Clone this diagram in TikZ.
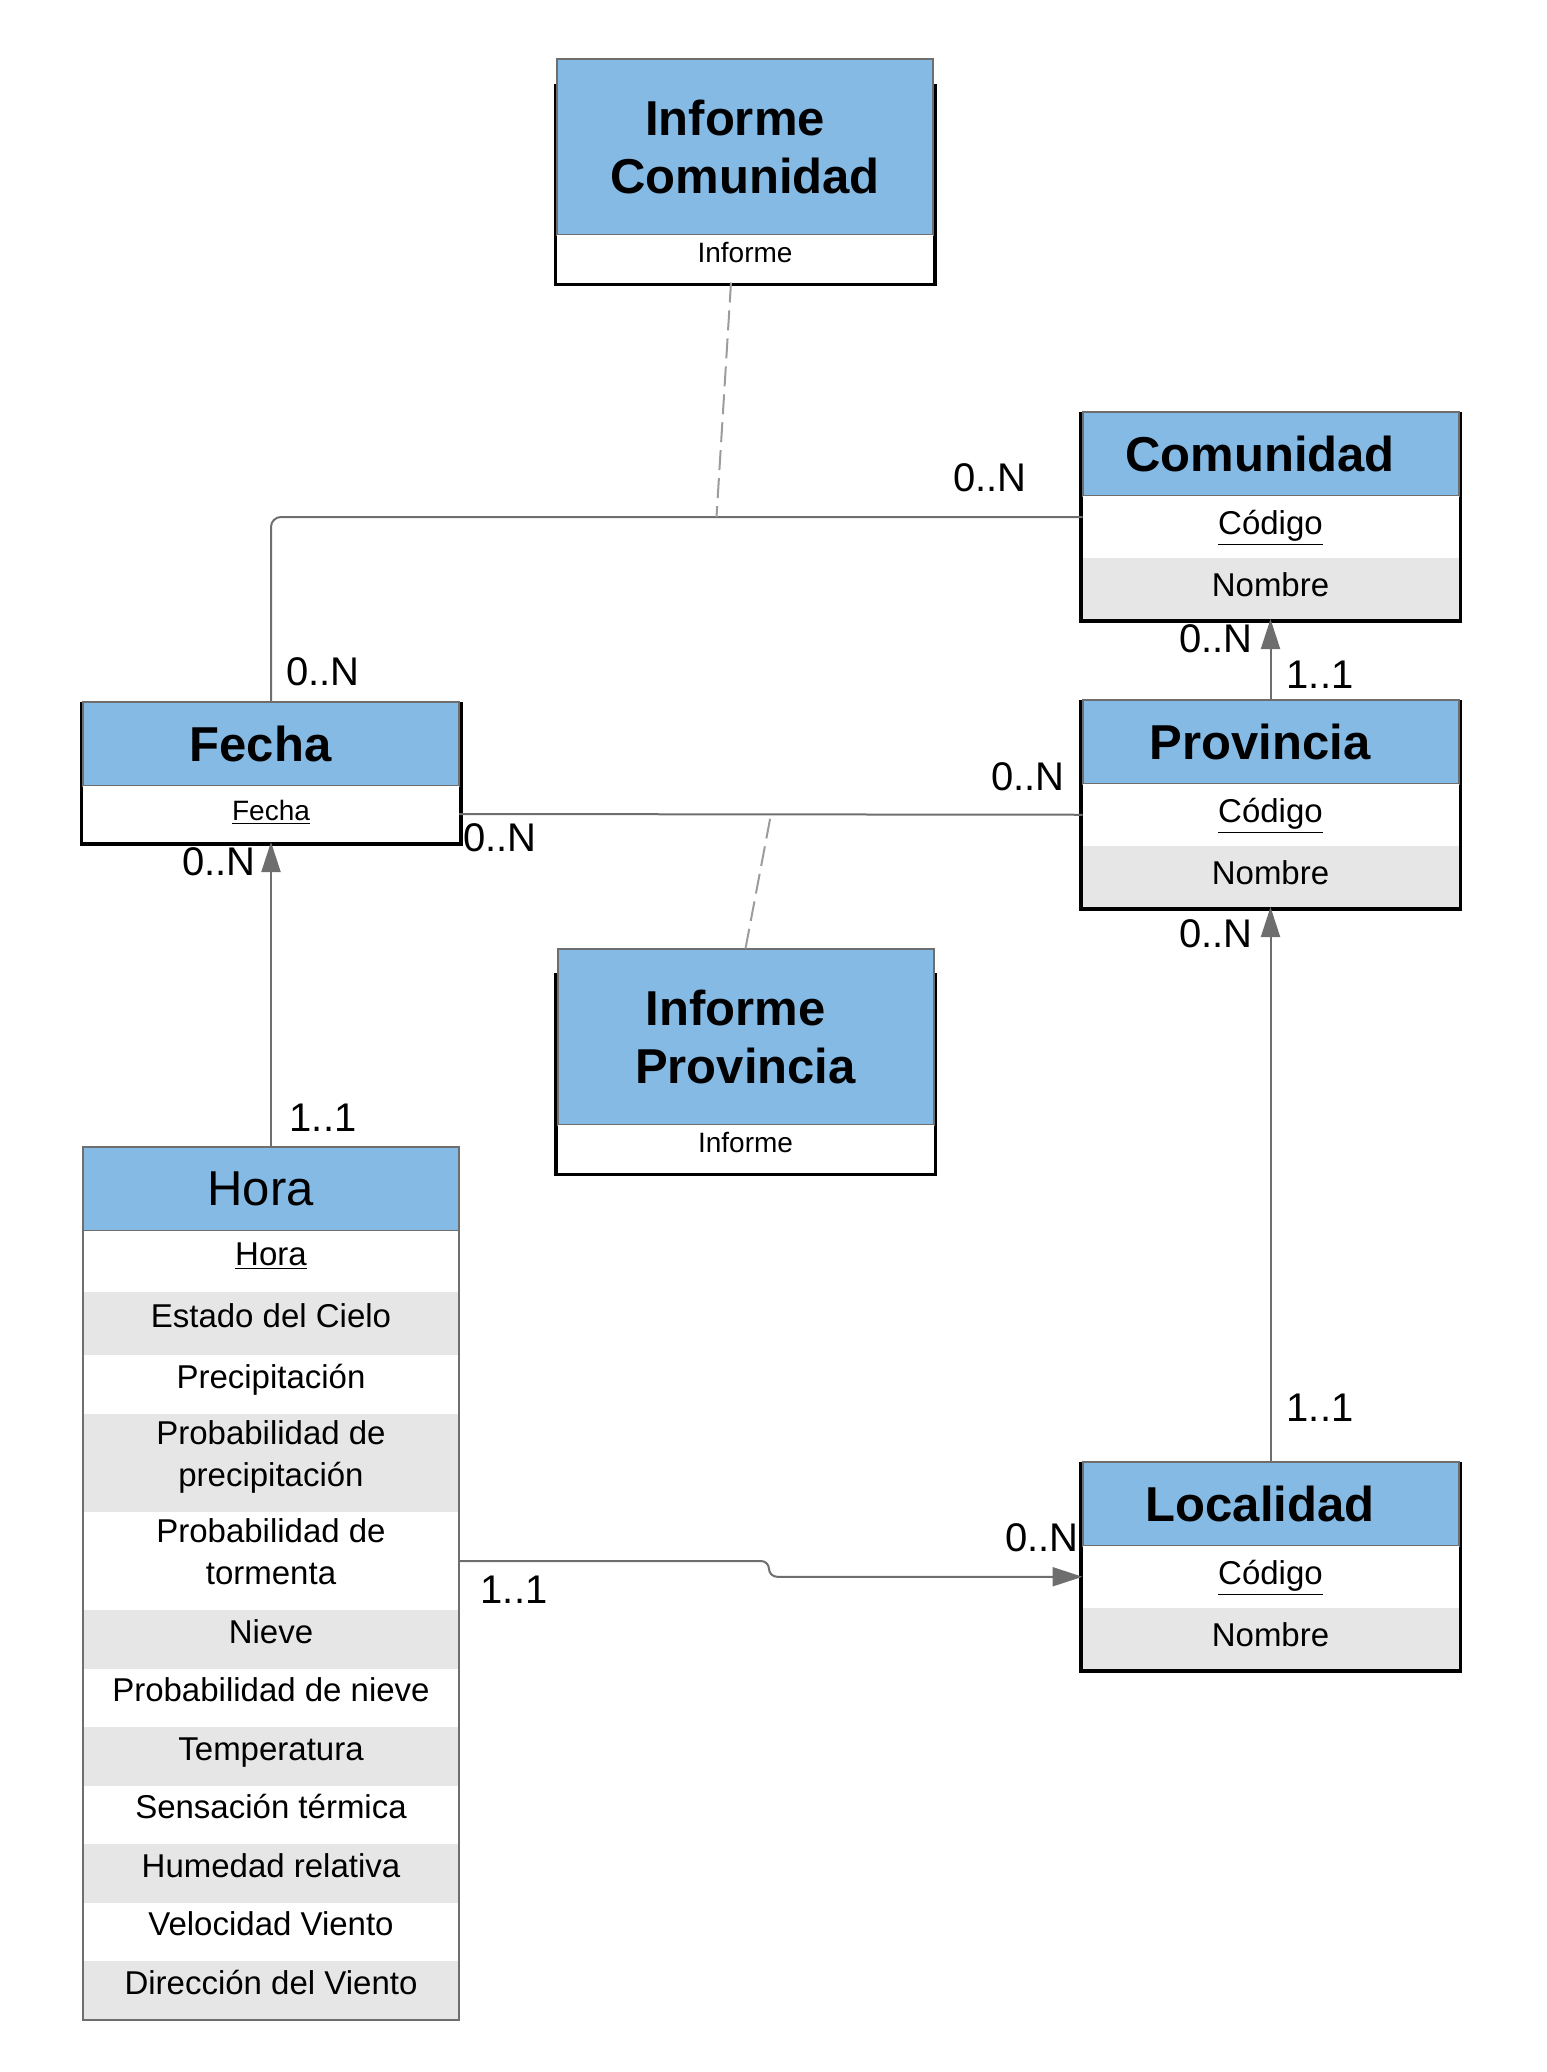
\documentclass[tikz,border=0pt]{standalone}
\usepackage{fontspec}
\setmainfont{Liberation Sans}
\usetikzlibrary{positioning, calc, arrows.meta, backgrounds}
\definecolor{headFill}{HTML}{84BAE4}
\definecolor{rowFill}{HTML}{E6E6E6}
\definecolor{lineGray}{HTML}{6E6E6E}
\definecolor{dashGray}{HTML}{9C9C9C}
\tikzset{
    Head/.style = {
        draw=lineGray, line width=1pt, fill=headFill,
        minimum width=188pt, minimum height=42pt, inner sep=0pt, outer sep=0pt,
        align=center, font=\fontsize{24.5}{29}\selectfont\bfseries
    },
    Title/.style = {Head, execute at end node={\hspace*{10.5pt}}},
    HeadTall/.style = {Head, minimum height=88pt},
    Attr/.style = {
        fill=white, minimum width=188pt, minimum height=30.75pt,
        inner sep=0pt, outer sep=0pt, align=center,
        text height=12pt, text depth=4pt, font=\fontsize{16.5}{21}\selectfont
    },
    AttrGray/.style = {Attr, fill=rowFill},
    AttrSmall/.style = {Attr, minimum height=24pt, text height=10pt, font=\fontsize{14}{17}\selectfont},
    HRow/.style = {Attr, minimum height=29.25pt, text depth=8pt},
    HRowGray/.style = {HRow, fill=rowFill},
    HRowTwo/.style = {Attr, minimum height=49pt, text height=, text depth=},
    Frame/.style = {draw=black, line width=3.5pt},
    Card/.style = {inner sep=0pt, font=\fontsize{20}{24}\selectfont},
    Link/.style = {draw=lineGray, line width=1pt},
    Arrow/.style = {Link, -{Triangle[length=15pt, width=9.5pt]}},
    Assoc/.style = {draw=dashGray, line width=1pt, dash pattern=on 10pt off 4pt}
}

\begin{document}
\begin{tikzpicture}[x=0.5pt, y=-0.5pt]
    \useasboundingbox (0,0) rectangle (1547,2072);
    % informes
    \node[HeadTall] (infC) at (745,146.5) {Informe\hspace*{10pt}\\Comunidad};
    \node[AttrSmall, text depth=6pt, below=0pt of infC] (infCA) {Informe};
    \node[HeadTall] (infP) at (745.5,1036.5) {Informe\hspace*{10pt}\\Provincia};
    \node[AttrSmall, text depth=6pt, below=0pt of infP] (infPA) {Informe};
    % fecha
    \node[Title] (fecha) at (271,744) {Fecha};
    \node[AttrSmall, minimum height=28pt, below=0pt of fecha] (fechaA) {\underline{Fecha}};
    % comunidad, provincia, localidad
    \node[Title] (com) at (1270.5,454) {Comunidad};
    \node[Attr, below=0pt of com] (comC) {\underline{Código}};
    \node[AttrGray, below=0pt of comC] (comN) {Nombre};
    \node[Title, below=40.5pt of comN] (prov) {Provincia};
    \node[Attr, below=0pt of prov] (provC) {\underline{Código}};
    \node[AttrGray, below=0pt of provC] (provN) {Nombre};
    \node[Title, below=277.5pt of provN] (loc) {Localidad};
    \node[Attr, below=0pt of loc] (locC) {\underline{Código}};
    \node[AttrGray, below=0pt of locC] (locN) {Nombre};
    % hora
    \node[Title, font=\fontsize{24.5}{29}\selectfont, below=152.5pt of fechaA] (hora) {Hora};
    \node[HRow, minimum height=30.5pt, below=0pt of hora] (hHora) {\underline{Hora}};
    \node[HRowGray, minimum height=31.5pt, below=0pt of hHora] (hCielo) {Estado del Cielo};
    \node[HRow, minimum height=29.5pt, below=0pt of hCielo] (hPrec) {Precipitación};
    \node[HRowTwo, fill=rowFill, below=0pt of hPrec] (hProbPrec) {Probabilidad de\\precipitación\\[-12pt]\mbox{}};
    \node[HRowTwo, below=0pt of hProbPrec] (hProbTorm) {Probabilidad de\\tormenta\\[-12pt]\mbox{}};
    \node[HRowGray, below=0pt of hProbTorm] (hNieve) {Nieve};
    \node[HRow, below=0pt of hNieve] (hProbNieve) {Probabilidad de nieve};
    \node[HRowGray, below=0pt of hProbNieve] (hTemp) {Temperatura};
    \node[HRow, below=0pt of hTemp] (hSens) {Sensación térmica};
    \node[HRowGray, below=0pt of hSens] (hHum) {Humedad relativa};
    \node[HRow, below=0pt of hHum] (hVel) {Velocidad Viento};
    \node[HRowGray, below=0pt of hVel] (hDir) {Dirección del Viento};
    \draw[Link] (hora.north west) rectangle (hDir.south east);
    % black frames
    \begin{scope}[on background layer]
        \draw[Frame] ([yshift=-14.5pt]infC.north west) rectangle (infCA.south east);
        \draw[Frame] ([yshift=-14pt]infP.north west) rectangle (infPA.south east);
        \draw[Frame] ([yshift=-1.5pt]fecha.north west) rectangle (fechaA.south east);
        \draw[Frame] ([yshift=-1.5pt]com.north west) rectangle (comN.south east);
        \draw[Frame] ([yshift=-1.5pt]prov.north west) rectangle (provN.south east);
        \draw[Frame] ([yshift=-1.5pt]loc.north west) rectangle (locN.south east);
    \end{scope}
    % relaciones
    \coordinate (comIn) at ([yshift=-10.5pt]com.south west);
    \draw[Link, rounded corners=5pt] (fecha.north) |- (comIn);
    \path (comIn) ++(-366,0) coordinate (relC);
    \draw[Assoc] ([xshift=-7pt]infCA.south) -- (relC);
    \draw[Link] (fechaA.east) -- (provC.west);
    \path (fechaA.east) ++(312,0) coordinate (relP);
    \draw[Assoc] (infP.north) -- (relP);
    \draw[Arrow] (hora.north) -- (fechaA.south);
    \draw[Arrow] (prov.north) -- (comN.south);
    \draw[Arrow] (loc.north) -- (provN.south);
    \draw[Arrow, rounded corners=4pt] (hProbTorm.east) -- ++(310,0) |- (locC.west);
    % cardinalidades
    \node[Card] (cComF) at (990,478) {0..N};
    \node[Card] (cFecC) at (323,672) {0..N};
    \node[Card] (cFecP) at (500,838) {0..N};
    \node[Card] (cProF) at (1028,777) {0..N};
    \node[Card] (cFecH) at (219,862) {0..N};
    \node[Card] (cHorF) at (323,1118) {1..1};
    \node[Card] (cComP) at (1216,639) {0..N};
    \node[Card] (cProC) at (1320,675) {1..1};
    \node[Card] (cProL) at (1216,934) {0..N};
    \node[Card] (cLocP) at (1320,1408) {1..1};
    \node[Card] (cLocH) at (1042,1538) {0..N};
    \node[Card] (cHorL) at (514,1590) {1..1};
\end{tikzpicture}
\end{document}
